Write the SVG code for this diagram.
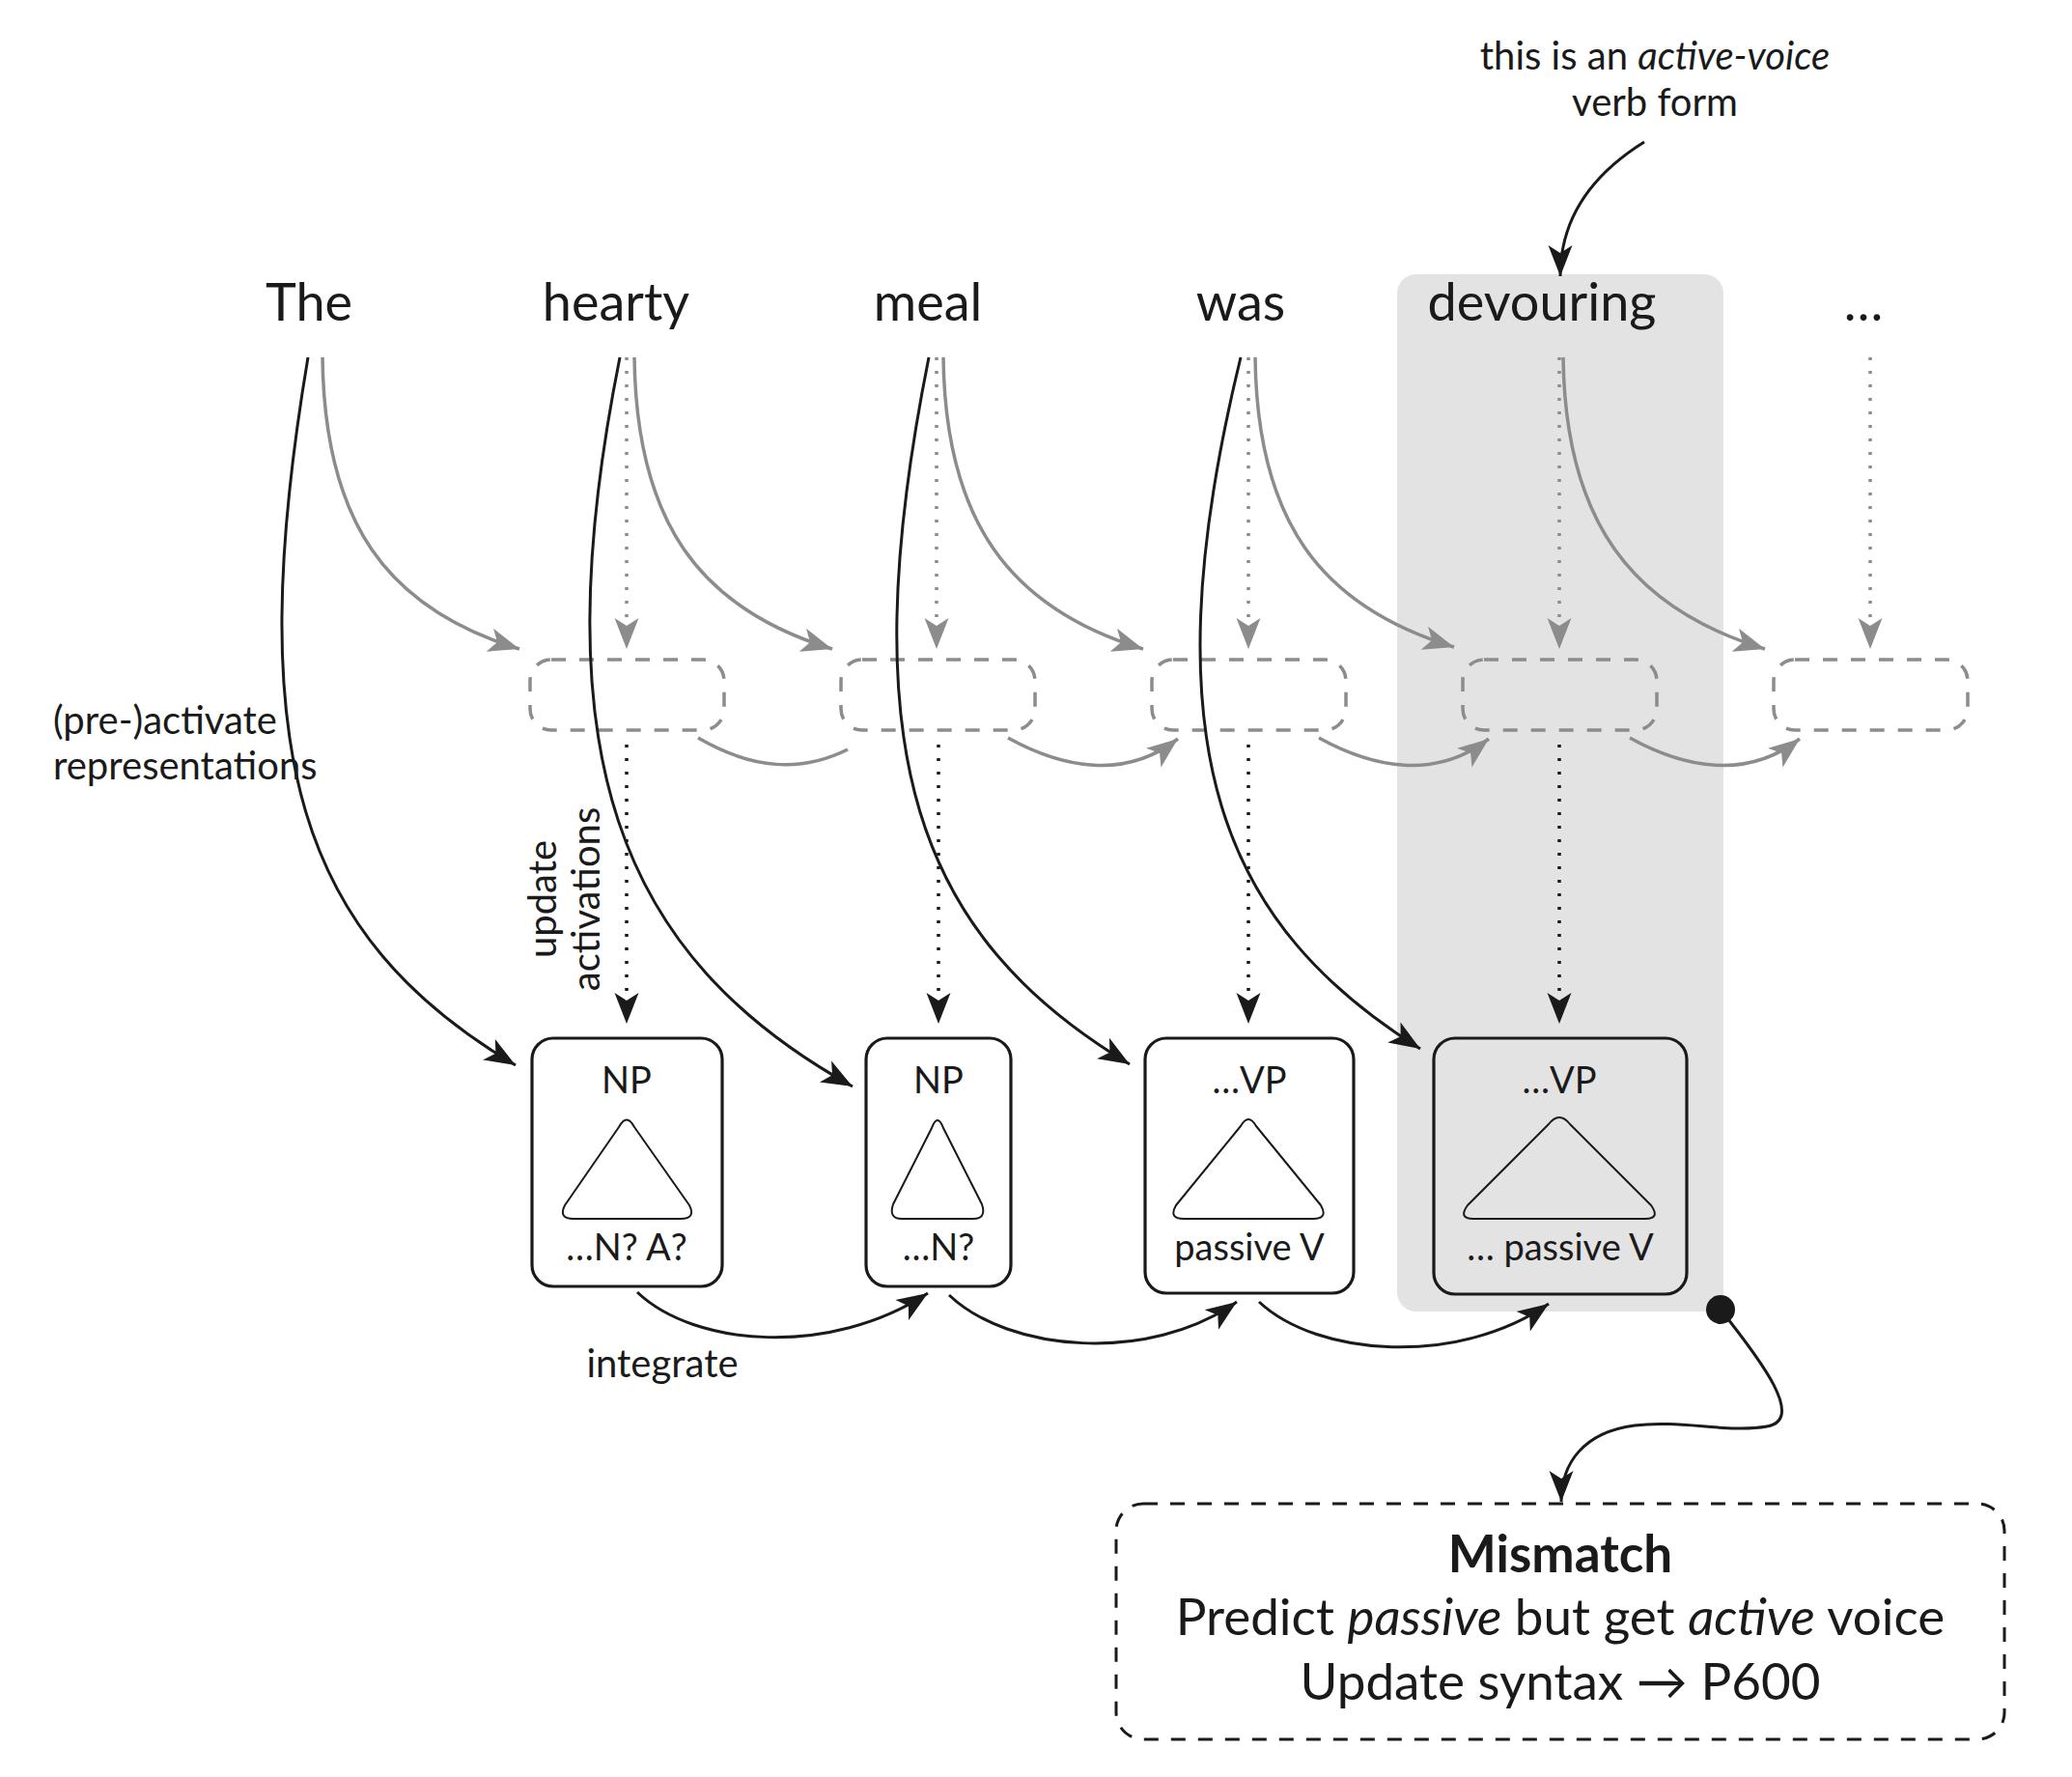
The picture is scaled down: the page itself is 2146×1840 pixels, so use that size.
<svg xmlns="http://www.w3.org/2000/svg" width="2146" height="1840" viewBox="0 0 2146 1840">
<style>
  text { font-family: "Lato", "Noto Sans", sans-serif; fill: #1a1a1a; }
  .word { font-size: 54px; text-anchor: middle; }
  .lbl { font-size: 40px; }
  .nl { font-size: 38px; text-anchor: middle; }
  .mm { font-size: 53px; text-anchor: middle; }
  .blk { fill: none; stroke: #1a1a1a; stroke-width: 3; }
  .gry { fill: none; stroke: #8c8c8c; stroke-width: 3.5; }
  .gdot { fill: none; stroke: #8c8c8c; stroke-width: 3.5; stroke-dasharray: 3 11; }
  .bdot { fill: none; stroke: #1a1a1a; stroke-width: 3.5; stroke-dasharray: 3 11; }
  .pbox { fill: none; stroke: #8c8c8c; stroke-width: 3.5; stroke-dasharray: 15 14; }
  .node { fill: #ffffff; stroke: #1a1a1a; stroke-width: 3.2; }
  .tri { fill: none; stroke: #1a1a1a; stroke-width: 2; stroke-linejoin: round; }
</style>
<defs>
  <marker id="ab" viewBox="-34 -14 36 28" refX="0" refY="0" markerWidth="36" markerHeight="28" markerUnits="userSpaceOnUse" orient="auto">
    <path d="M0,0 L-32,-12.5 L-24,0 L-32,12.5 Z" fill="#1a1a1a"/>
  </marker>
  <marker id="ag" viewBox="-34 -14 36 28" refX="0" refY="0" markerWidth="36" markerHeight="28" markerUnits="userSpaceOnUse" orient="auto">
    <path d="M0,0 L-32,-12.5 L-24,0 L-32,12.5 Z" fill="#8c8c8c"/>
  </marker>
</defs>

<rect id="highlight" x="1447" y="284" width="338" height="1074" rx="20" fill="#e3e3e3"/>

<g id="annotation">
  <text class="lbl" x="1714" y="72" text-anchor="middle">this is an <tspan font-style="italic">active-voice</tspan></text>
  <text class="lbl" x="1714" y="120" text-anchor="middle">verb form</text>
</g>

<g id="words">
  <text id="w-the" class="word" x="320" y="332">The</text>
  <text id="w-hearty" class="word" x="638" y="332">hearty</text>
  <text id="w-meal" class="word" x="961" y="332">meal</text>
  <text id="w-was" class="word" x="1285" y="332">was</text>
  <text id="w-devouring" class="word" x="1597" y="332">devouring</text>
  <text id="w-dots" class="word" x="1930" y="332">…</text>
</g>

<g id="predictions">
  <rect id="p1" class="pbox" x="549" y="683" width="201" height="73" rx="22"/>
  <rect id="p2" class="pbox" x="871" y="683" width="201" height="73" rx="22"/>
  <rect id="p3" class="pbox" x="1193" y="683" width="201" height="73" rx="22"/>
  <rect id="p4" class="pbox" x="1515" y="683" width="201" height="73" rx="22"/>
  <rect id="p5" class="pbox" x="1837" y="683" width="201" height="73" rx="22"/>
</g>

<g id="node1">
  <rect class="node" x="551" y="1075" width="197" height="257" rx="22"/>
  <path class="tri" d="M641,1167 Q649,1152 657,1167 L714,1248 Q721,1262 705,1262 L594,1262 Q578,1262 585,1248 Z"/>
  <text class="nl" x="649" y="1132">NP</text>
  <text class="nl" x="649" y="1305">…N? A?</text>
</g>
<g id="node2">
  <rect class="node" x="897" y="1075" width="150" height="257" rx="22"/>
  <path class="tri" d="M965,1168 Q971,1152 977,1168 L1017,1247 Q1022,1262 1008,1262 L934,1262 Q920,1262 925,1247 Z"/>
  <text class="nl" x="972" y="1132">NP</text>
  <text class="nl" x="972" y="1305">…N?</text>
</g>
<g id="node3">
  <rect class="node" x="1186" y="1075" width="216" height="264" rx="22"/>
  <path class="tri" d="M1285,1166 Q1293,1152 1301,1166 L1368,1248 Q1376,1262 1360,1262 L1226,1262 Q1210,1262 1218,1248 Z"/>
  <text class="nl" x="1294" y="1132">…VP</text>
  <text class="nl" x="1294" y="1305">passive V</text>
</g>
<g id="node4">
  <rect class="node" x="1485" y="1075" width="262" height="265" rx="22" style="fill:#e3e3e3"/>
  <path class="tri" d="M1604,1164 Q1615,1150 1626,1164 L1710,1248 Q1720,1262 1704,1262 L1526,1262 Q1510,1262 1520,1248 Z"/>
  <text class="nl" x="1615" y="1132">…VP</text>
  <text class="nl" x="1616" y="1305">…  passive V</text>
</g>

<g id="mismatch">
  <rect x="1156" y="1557" width="920" height="244" rx="28" fill="none" stroke="#1a1a1a" stroke-width="3" stroke-dasharray="15 13"/>
  <text class="mm" x="1616" y="1628" font-weight="bold">Mismatch</text>
  <text class="mm" x="1616" y="1693">Predict <tspan font-style="italic">passive</tspan> but get <tspan font-style="italic">active</tspan> voice</text>
  <text class="mm" x="1616" y="1760">Update syntax → P600</text>
</g>

<g id="labels">
  <text class="lbl" x="55" y="760">(pre-)activate</text>
  <text class="lbl" x="55" y="807">representations</text>
  <text class="lbl" text-anchor="middle" transform="translate(576,931) rotate(-90)">update</text>
  <text class="lbl" text-anchor="middle" transform="translate(621,931) rotate(-90)">activations</text>
  <text class="lbl" x="686" y="1426" text-anchor="middle">integrate</text>
</g>

<g id="connectors">
  <!-- annotation arrow -->
  <path class="blk" d="M1703,147 C1650,180 1616,225 1616,286" marker-end="url(#ab)"/>
  <!-- word to structure (black) -->
  <path class="blk" d="M319,370 C250,780 310,970 534,1103" marker-end="url(#ab)"/>
  <path class="blk" d="M642,370 C560,780 640,990 883,1125" marker-end="url(#ab)"/>
  <path class="blk" d="M962,370 C880,780 950,970 1170,1102" marker-end="url(#ab)"/>
  <path class="blk" d="M1285,370 C1185,780 1270,960 1471,1086" marker-end="url(#ab)"/>
  <!-- word to next prediction (gray) -->
  <path class="gry" d="M334,370 C336,540 400,630 538,672" marker-end="url(#ag)"/>
  <path class="gry" d="M657,370 C659,540 724,630 862,672" marker-end="url(#ag)"/>
  <path class="gry" d="M977,370 C979,540 1046,630 1184,672" marker-end="url(#ag)"/>
  <path class="gry" d="M1300,370 C1302,540 1368,628 1506,670" marker-end="url(#ag)"/>
  <path class="gry" d="M1619,370 C1621,540 1690,630 1828,672" marker-end="url(#ag)"/>
  <!-- word to prediction (gray dotted) -->
  <path class="gdot" d="M649,370 L649,672" marker-end="url(#ag)"/>
  <path class="gdot" d="M970,370 L970,672" marker-end="url(#ag)"/>
  <path class="gdot" d="M1293,370 L1293,672" marker-end="url(#ag)"/>
  <path class="gdot" d="M1615,370 L1615,672" marker-end="url(#ag)"/>
  <path class="gdot" d="M1937,370 L1937,672" marker-end="url(#ag)"/>
  <!-- prediction to prediction (gray) -->
  <path class="gry" d="M723,764 C780,797 830,800 878,776"/>
  <path class="gry" d="M1044,764 C1100,795 1165,808 1220,765" marker-end="url(#ag)"/>
  <path class="gry" d="M1366,764 C1422,795 1487,808 1542,765" marker-end="url(#ag)"/>
  <path class="gry" d="M1688,764 C1744,795 1809,808 1864,765" marker-end="url(#ag)"/>
  <!-- update activations (black dotted) -->
  <path class="bdot" d="M649,771 L649,1060" marker-end="url(#ab)"/>
  <path class="bdot" d="M972,771 L972,1060" marker-end="url(#ab)"/>
  <path class="bdot" d="M1293,771 L1293,1060" marker-end="url(#ab)"/>
  <path class="bdot" d="M1615,771 L1615,1060" marker-end="url(#ab)"/>
  <!-- integrate -->
  <path class="blk" d="M660,1338 C720,1395 860,1405 961,1339" marker-end="url(#ab)"/>
  <path class="blk" d="M983,1341 C1045,1400 1190,1412 1281,1348" marker-end="url(#ab)"/>
  <path class="blk" d="M1304,1348 C1365,1405 1510,1415 1604,1350" marker-end="url(#ab)"/>
  <!-- mismatch -->
  <circle cx="1782" cy="1356" r="15" fill="#1a1a1a"/>
  <path class="blk" d="M1782,1356 C1825,1410 1870,1470 1830,1477 C1790,1484 1740,1470 1693,1476 C1640,1483 1617,1515 1617,1555" marker-end="url(#ab)"/>
</g>
</svg>
